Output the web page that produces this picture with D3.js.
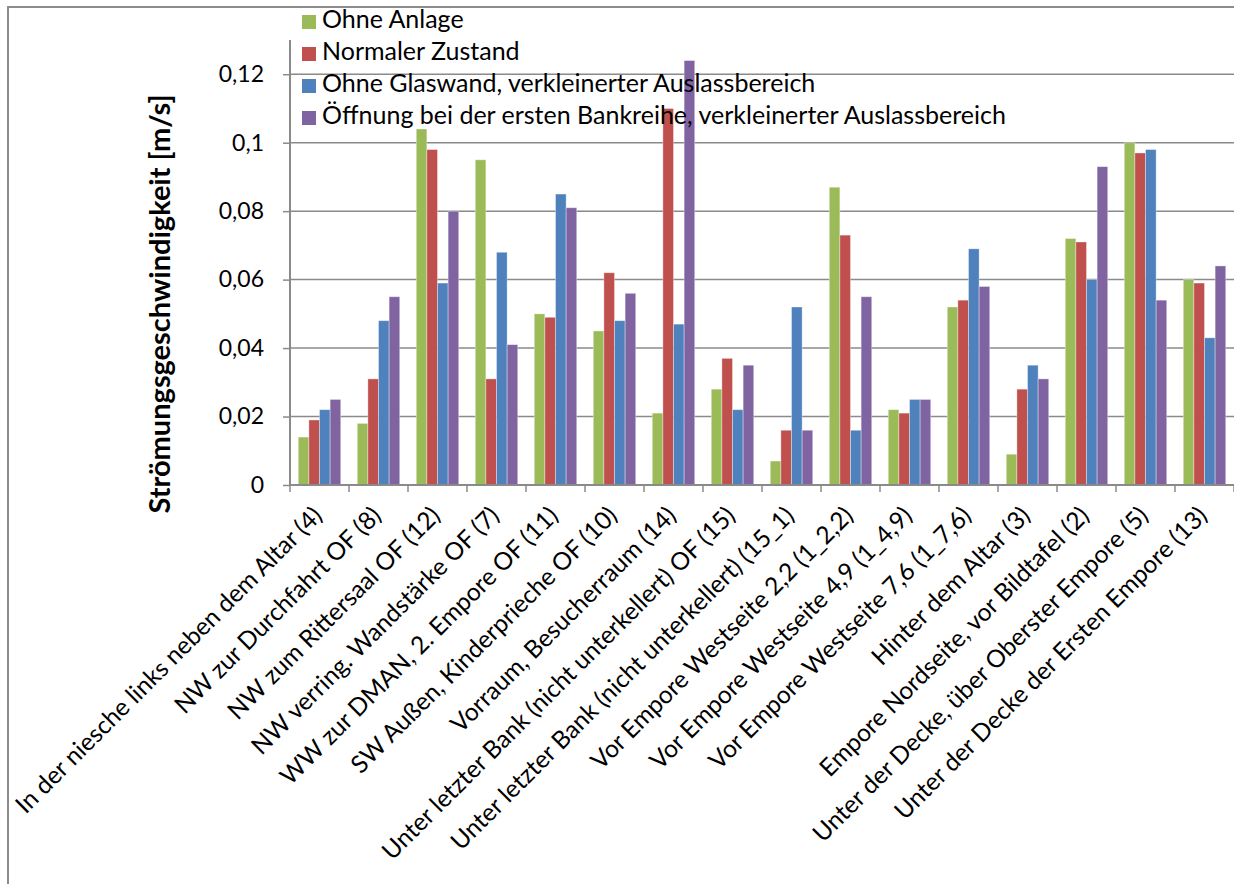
<!DOCTYPE html>
<html>
<head>
<meta charset="utf-8">
<script src="https://cdn.jsdelivr.net/npm/d3@7"></script>
<style>
  html, body { margin: 0; padding: 0; background: #fff; }
  svg { display: block; font-family: Lato, "Open Sans", sans-serif; }
</style>
</head>
<body>
<svg id="chart" width="1234" height="884"></svg>
<script>
// Messpunkte (Kategorien der x-Achse)
const categories = [
  "In der niesche links neben dem Altar (4)",
  "NW zur Durchfahrt OF (8)",
  "NW zum Rittersaal OF (12)",
  "NW verring. Wandstärke OF (7)",
  "WW zur DMAN, 2. Empore OF (11)",
  "SW Außen, Kinderprieche OF (10)",
  "Vorraum, Besucherraum (14)",
  "Unter letzter Bank (nicht unterkellert) OF (15)",
  "Unter letzter Bank (nicht unterkellert) (15_1)",
  "Vor Empore Westseite 2,2 (1_2,2)",
  "Vor Empore Westseite 4,9 (1_4,9)",
  "Vor Empore Westseite 7,6 (1_7,6)",
  "Hinter dem Altar (3)",
  "Empore Nordseite, vor Bildtafel (2)",
  "Unter der Decke, über Oberster Empore (5)",
  "Unter der Decke der Ersten Empore (13)"
];

const seriesNames = [
  "Ohne Anlage",
  "Normaler Zustand",
  "Ohne Glaswand, verkleinerter Auslassbereich",
  "Öffnung bei der ersten Bankreihe, verkleinerter Auslassbereich"
];

// Strömungsgeschwindigkeiten in m/s
const ohneAnlage      = [0.014, 0.018, 0.104, 0.095, 0.050, 0.045, 0.021, 0.028, 0.007, 0.087, 0.022, 0.052, 0.009, 0.072, 0.100, 0.060];
const normalerZustand = [0.019, 0.031, 0.098, 0.031, 0.049, 0.062, 0.110, 0.037, 0.016, 0.073, 0.021, 0.054, 0.028, 0.071, 0.097, 0.059];
const ohneGlaswand    = [0.022, 0.048, 0.059, 0.068, 0.085, 0.048, 0.047, 0.022, 0.052, 0.016, 0.025, 0.069, 0.035, 0.060, 0.098, 0.043];
const oeffnungBank    = [0.025, 0.055, 0.080, 0.041, 0.081, 0.056, 0.124, 0.035, 0.016, 0.055, 0.025, 0.058, 0.031, 0.093, 0.054, 0.064];

const yTicks = [0, 0.02, 0.04, 0.06, 0.08, 0.1, 0.12];
const yTickLabels = ["0", "0,02", "0,04", "0,06", "0,08", "0,1", "0,12"];
const yTitle = "Strömungsgeschwindigkeit [m/s]";

const colors = ["#9BBB59", "#C0504D", "#4F81BD", "#8064A2"];
const seriesValues = [ohneAnlage, normalerZustand, ohneGlaswand, oeffnungBank];

const svg = d3.select("#chart");
const plot = { left: 290, right: 1234, top: 40, bottom: 485 };
const gridColor = "#8a8a8a";

// Äußerer Rahmen des Diagrammbereichs
svg.append("path")
  .attr("d", "M8,884 L8,7 L1234,7")
  .attr("fill", "none")
  .attr("stroke", "#8c8c8c")
  .attr("stroke-width", 2);

const x0 = d3.scaleBand().domain(d3.range(categories.length)).range([plot.left, plot.right]).paddingInner(0).paddingOuter(0);
const groupW = x0.bandwidth() * 0.72;
const x1 = d3.scaleBand().domain(d3.range(seriesNames.length)).range([0, groupW]).padding(0);
const y = d3.scaleLinear().domain([0, 0.13]).range([plot.bottom, plot.top]);

// Hilfslinien
svg.append("g").selectAll("line")
  .data(yTicks.slice(1))
  .join("line")
  .attr("x1", plot.left).attr("x2", plot.right)
  .attr("y1", d => y(d)).attr("y2", d => y(d))
  .attr("stroke", gridColor).attr("stroke-width", 1.5);

// Balken
const groups = svg.append("g").selectAll("g")
  .data(categories.map((c, i) => i))
  .join("g")
  .attr("transform", i => `translate(${x0(i) + (x0.bandwidth() - groupW) / 2},0)`);

groups.selectAll("rect")
  .data(i => seriesValues.map((vals, s) => ({ s, v: vals[i] })))
  .join("rect")
  .attr("x", d => x1(d.s))
  .attr("width", x1.bandwidth())
  .attr("y", d => y(d.v))
  .attr("height", d => y(0) - y(d.v))
  .attr("fill", d => colors[d.s])
  .attr("stroke", "rgba(255,255,255,0.45)")
  .attr("stroke-width", 0.8);

// y-Achse
const yAxis = d3.axisLeft(y)
  .tickValues(yTicks)
  .tickFormat((d, i) => yTickLabels[i])
  .tickSize(7)
  .tickPadding(19);
const gy = svg.append("g").attr("transform", `translate(${plot.left},0)`).call(yAxis);
gy.select(".domain").attr("d", `M0,${plot.top}V${plot.bottom}`).attr("stroke", gridColor).attr("stroke-width", 2);
gy.selectAll(".tick line").attr("stroke", gridColor).attr("stroke-width", 1.5);
gy.selectAll(".tick text").attr("font-size", 23).attr("fill", "#000").attr("font-family", "Lato, sans-serif");

// x-Achse mit Teilstrichen an den Kategoriegrenzen
const gx = svg.append("g");
gx.append("line")
  .attr("x1", plot.left).attr("x2", plot.right)
  .attr("y1", plot.bottom).attr("y2", plot.bottom)
  .attr("stroke", gridColor).attr("stroke-width", 2);
gx.selectAll("line.tick")
  .data(d3.range(categories.length + 1))
  .join("line")
  .attr("class", "tick")
  .attr("x1", i => plot.left + i * x0.bandwidth())
  .attr("x2", i => plot.left + i * x0.bandwidth())
  .attr("y1", plot.bottom).attr("y2", plot.bottom + 7)
  .attr("stroke", gridColor).attr("stroke-width", 1.5);

gx.selectAll("text")
  .data(categories)
  .join("text")
  .attr("transform", (d, i) => `translate(${x0(i) + x0.bandwidth() / 2 - 2},${plot.bottom + 26}) rotate(-45)`)
  .attr("text-anchor", "end")
  .attr("dy", "0.35em")
  .attr("font-size", 24.5)
  .attr("fill", "#000")
  .text(d => d);

// Achsentitel
svg.append("text")
  .attr("transform", `translate(160,304) rotate(-90)`)
  .attr("text-anchor", "middle")
  .attr("dy", "0.35em")
  .attr("font-size", 29)
  .attr("font-weight", "bold")
  .attr("fill", "#000")
  .text(yTitle);

// Legende
const legend = svg.append("g").selectAll("g")
  .data(seriesNames)
  .join("g")
  .attr("transform", (d, i) => `translate(302,${15 + i * 32})`);
legend.append("rect")
  .attr("width", 14).attr("height", 14)
  .attr("fill", (d, i) => colors[i]);
legend.append("text")
  .attr("x", 20).attr("y", 4)
  .attr("dy", "0.35em")
  .attr("font-size", 25)
  .attr("fill", "#000")
  .text(d => d);
</script>
</body>
</html>
